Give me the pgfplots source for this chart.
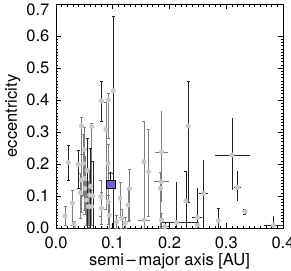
\documentclass[border=0pt]{standalone}
\usepackage{pgfplots}
\pgfplotsset{compat=1.18}
\usepackage{pgfplotstable}
\usepackage{fontspec}
\setmainfont{TeX Gyre Heros}
\definecolor{ptgray}{RGB}{200,200,200}
\definecolor{bargray}{RGB}{125,125,125}
\definecolor{barblack}{RGB}{35,35,35}
\definecolor{sqblue}{RGB}{110,95,210}

% x y eym eyp  (gray bars, vertical only)
\pgfplotstableread{
x y eym eyp
0.016 0.0375 0.028 0.030
0.029 0.078 0.069 0.041
0.032 0.0125 0.010 0.010
0.043 0.110 0.080 0.060
0.045 0.319 0.220 0.028
0.045 0.150 0.100 0.080
0.048 0.202 0.100 0.090
0.050 0.246 0.120 0.070
0.050 0.155 0.100 0.060
0.051 0.124 0.080 0.100
0.054 0.0875 0.080 0.060
0.057 0.067 0.060 0.080
0.059 0.103 0.100 0.080
0.063 0.317 0.200 0.011
0.063 0.067 0.060 0.050
0.079 0.098 0.060 0.050
0.080 0.062 0.050 0.050
0.088 0.308 0.250 0.084
0.092 0.400 0.120 0.021
0.092 0.202 0.100 0.060
0.092 0.082 0.070 0.060
0.094 0.040 0.040 0.040
0.107 0.020 0.020 0.020
0.113 0.093 0.060 0.050
0.116 0.030 0.030 0.030
0.122 0.015 0.015 0.020
0.127 0.072 0.050 0.050
0.130 0.124 0.100 0.060
0.155 0.207 0.207 0.127
0.163 0.176 0.140 0.132
0.184 0.124 0.124 0.050
0.186 0.025 0.025 0.020
}\grayY

% gray bars, both directions
\pgfplotstableread{
x y exm exp eym eyp
0.186 0.238 0.009 0.009 0.150 0.122
0.186 0.145 0.010 0.010 0.060 0.060
0.155 0.025 0.008 0.008 0.000 0.000
}\grayXY

% black bars, vertical only
\pgfplotstableread{
x y eym eyp
0.0217 0.204 0.054 0.055
0.039 0.199 0.074 0.045
0.055 0.180 0.180 0.100
0.061 0.130 0.130 0.120
0.065 0.100 0.100 0.110
0.080 0.397 0.065 0.060
0.101 0.429 0.429 0.234
0.229 0.084 0.084 0.092
0.233 0.319 0.240 0.141
0.249 0.009 0.009 0.010
0.286 0.023 0.023 0.039
0.333 0.051 0.008 0.008
}\blackY

% black bars, both directions
\pgfplotstableread{
x y exm exp eym eyp
0.2125 0.017 0.0235 0.0325 0.017 0.123
0.249 0.033 0.006 0.006 0.020 0.088
0.260 0.108 0.005 0.005 0.108 0.099
0.310 0.228 0.027 0.029 0.103 0.112
0.3195 0.127 0.004 0.004 0.039 0.045
0.383 0.009 0.013 0.013 0.009 0.025
0.192 0.004 0.005 0.005 0.004 0.010
}\blackXY

\begin{document}
\fontsize{16.5}{19}\selectfont
\begin{tikzpicture}
\begin{axis}[name=ax, scale only axis, width=227pt, height=224pt,
  xmin=0, xmax=0.4, ymin=0, ymax=0.7,
  xtick={0,0.1,0.2,0.3,0.4}, ytick={0,0.1,0.2,0.3,0.4,0.5,0.6},
  extra y ticks={0.7},
  extra y tick style={yticklabel style={yshift=-6pt}},
  minor x tick num=9, minor y tick num=9,
  tick align=inside, tick pos=both,
  major tick length=5pt, minor tick length=2.5pt,
  every tick/.style={black, line width=0.5pt},
  axis line style={black, line width=0.7pt},
  /pgf/number format/assume math mode=true,
  xticklabel style={/pgf/number format/fixed, /pgf/number format/fixed zerofill, /pgf/number format/precision=1, yshift=-3pt},
  yticklabel style={/pgf/number format/fixed, /pgf/number format/fixed zerofill, /pgf/number format/precision=1, xshift=-1pt},
  xlabel={semi\,\textendash\,major axis [AU]},
  ylabel={eccentricity},
  xlabel style={at={(axis description cs:0.5,-0.168)}, anchor=base},
  ylabel style={at={(axis description cs:-0.19,0.5)}, anchor=center, rotate=0},
]
% gray bars
\addplot[only marks, mark=*, mark size=2.3pt, mark options={fill=ptgray, draw=ptgray},
  error bars/.cd, y dir=both, y explicit,
  error bar style={color=bargray, line width=0.6pt}, error mark options={color=bargray, line width=0.6pt, mark size=1.5pt, rotate=90}]
  table[x=x, y=y, y error minus=eym, y error plus=eyp]{\grayY};
\addplot[only marks, mark=*, mark size=2.3pt, mark options={fill=ptgray, draw=ptgray},
  error bars/.cd, x dir=both, x explicit, y dir=both, y explicit,
  error bar style={color=bargray, line width=0.6pt}, error mark options={color=bargray, line width=0.6pt, mark size=1.5pt}]
  table[x=x, y=y, x error minus=exm, x error plus=exp, y error minus=eym, y error plus=eyp]{\grayXY};
% black bars
\addplot[only marks, mark=*, mark size=2.3pt, mark options={fill=ptgray, draw=ptgray},
  error bars/.cd, y dir=both, y explicit,
  error bar style={color=barblack, line width=0.6pt}, error mark options={color=barblack, line width=0.6pt, mark size=1.5pt, rotate=90}]
  table[x=x, y=y, y error minus=eym, y error plus=eyp]{\blackY};
\addplot[only marks, mark=*, mark size=2.3pt, mark options={fill=ptgray, draw=ptgray},
  error bars/.cd, x dir=both, x explicit, y dir=both, y explicit,
  error bar style={color=barblack, line width=0.6pt}, error mark options={color=barblack, line width=0.6pt, mark size=1.5pt}]
  table[x=x, y=y, x error minus=exm, x error plus=exp, y error minus=eym, y error plus=eyp]{\blackXY};
% arrow (lower limit) and square
\addplot[black, line width=0.7pt, ->, quiver={u=0, v=0.026}, mark=none]
  coordinates {(0.0963,0.150)};
\addplot[only marks, mark=square*, mark size=4.3pt, mark options={fill=sqblue, draw=black, line width=0.5pt}]
  coordinates {(0.0963,0.137)};
\end{axis}
\pgfresetboundingbox
\useasboundingbox ([xshift=-56pt,yshift=-42pt]ax.south west) rectangle ([xshift=8pt,yshift=4pt]ax.north east);
\end{tikzpicture}
\end{document}
